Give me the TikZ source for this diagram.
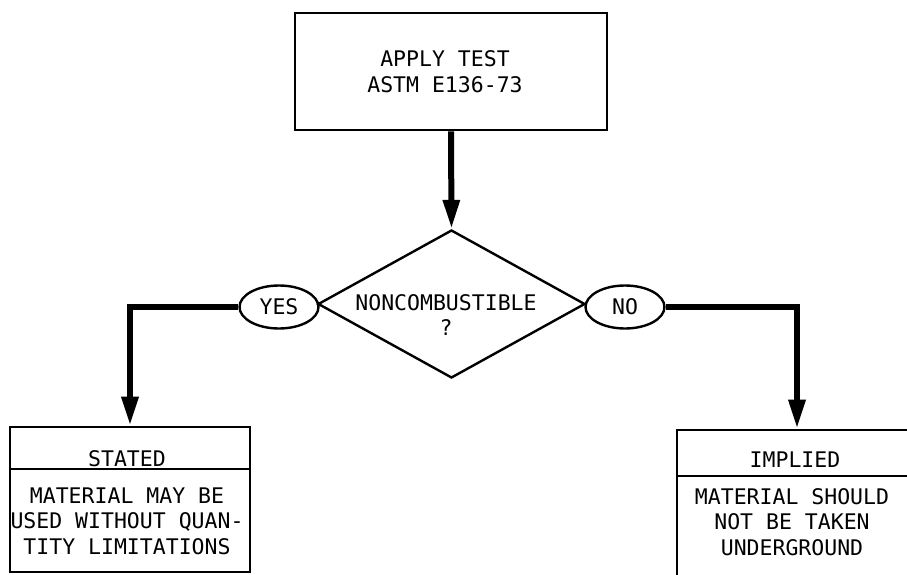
\documentclass[tikz,border=0pt]{standalone}
\usepackage{fontspec}
\newfontfamily\diagfont{DejaVu Sans Mono}
\usetikzlibrary{arrows.meta,shapes.geometric}
\tikzset{
  every node/.style={font=\diagfont\fontsize{21.5}{25.5}\selectfont, inner sep=0pt},
  boxline/.style={draw, line width=2.6pt},
  flow/.style={line width=6pt, -{Triangle[length=29pt,width=16pt]}},
  oval/.style={draw, ellipse, line width=2.4pt, minimum width=79pt, minimum height=43pt},
  txt/.style={align=center}
}
\begin{document}
\begin{tikzpicture}[x=1pt,y=-1pt]
\useasboundingbox (0,0) rectangle (907,575);
\clip (0,0) rectangle (907,575);
% top box
\node[boxline, minimum width=312pt, minimum height=117pt] (top) at (451,71.5) {};
\node[txt] (toptext) at (445,71.5) {APPLY TEST\\ASTM E136-73};
% diamond
\node[draw, diamond, line width=2.4pt, minimum width=267pt, minimum height=148pt] (dia) at (451.5,304) {};
\node[txt] (diatext) at (446,315) {NONCOMBUSTIBLE\\?};
% ovals
\node[oval] (yes) at (279,307) {YES};
\node[oval] (no) at (625,307) {NO};
% result boxes
\node[boxline, minimum width=240pt, minimum height=145pt] (stated) at (130,499.5) {};
\draw[line width=2.4pt] ([yshift=-43pt]stated.north west) -- ([yshift=-43pt]stated.north east);
\node (statedtitle) at (127,459) {STATED};
\node[txt] (statedbody) at (127,521) {MATERIAL MAY BE\\USED WITHOUT QUAN-\\TITY LIMITATIONS};
\node[boxline, minimum width=240pt, minimum height=160pt] (implied) at (797,510) {};
\draw[line width=2.4pt] ([yshift=-47pt]implied.north west) -- ([yshift=-47pt]implied.north east);
\node (impliedtitle) at (795,460) {IMPLIED};
\node[txt] (impliedbody) at (792,522) {MATERIAL SHOULD\\NOT BE TAKEN\\UNDERGROUND};
% connectors
\draw[flow] (top.south) -- (dia.north);
\draw[flow] (yes.west) -| (stated.north);
\draw[flow] (no.east) -| (implied.north);
\end{tikzpicture}
\end{document}
